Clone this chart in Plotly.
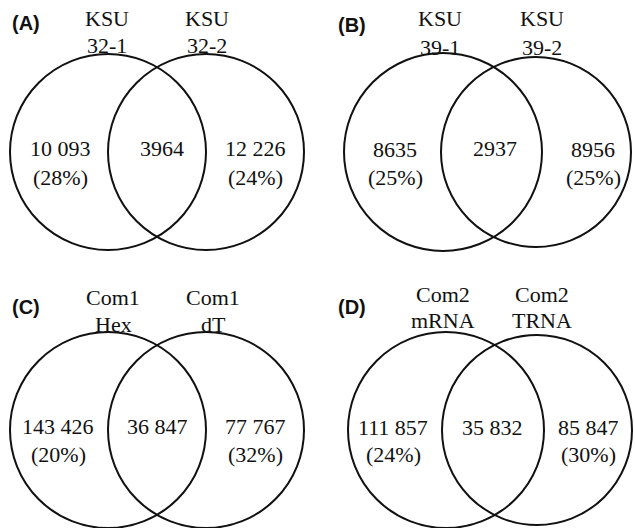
import plotly.graph_objects as go

# ---- data ----
panel_letters = ["(A)", "(B)", "(C)", "(D)"]
set_left_labels = [["KSU", "32-1"], ["KSU", "39-1"], ["Com1", "Hex"], ["Com2", "mRNA"]]
set_right_labels = [["KSU", "32-2"], ["KSU", "39-2"], ["Com1", "dT"], ["Com2", "TRNA"]]
unique_left = [10093, 8635, 143426, 111857]
shared = [3964, 2937, 36847, 35832]
unique_right = [12226, 8956, 77767, 85847]
pct_left = [28, 25, 20, 24]
pct_right = [24, 25, 32, 30]

# ---- layout geometry (pixels, y downward) ----
geom = [
    dict(lc=(108, 152, 98), rc=(206, 152, 98), letter=(26, 23), ll=(107, 18, 45), rl=(207, 18, 45),
         nl=(60, 148, 177), ns=(162, 148), nr=(255, 148, 177)),
    dict(lc=(443, 152, 99), rc=(536, 152, 95), letter=(352, 25), ll=(440, 18, 47), rl=(542, 18, 47),
         nl=(395, 149, 177), ns=(495, 148), nr=(593, 149, 177)),
    dict(lc=(108, 430, 98), rc=(206, 430, 98), letter=(26, 307), ll=(113, 297, 324), rl=(213, 297, 324),
         nl=(58, 426, 454), ns=(157, 426), nr=(255, 426, 454)),
    dict(lc=(446, 430, 98), rc=(537, 430, 95), letter=(352, 307), ll=(443, 294, 320), rl=(542, 294, 320),
         nl=(393, 427, 454), ns=(492, 427), nr=(588, 427, 454)),
]

def fmt(n):
    return f"{n:,}".replace(",", " ") if n >= 10000 else str(n)

SERIF = "Liberation Serif, Times New Roman, serif"
SANS = "Liberation Sans, Arial, sans-serif"
FS = 22

fig = go.Figure()
fig.add_trace(go.Scatter(x=[0, 635], y=[0, 528], mode="markers", marker=dict(opacity=0), hoverinfo="skip", showlegend=False))

shapes = []
ann = []

def text(x, y, s, size=FS, font=SERIF, bold=False):
    ann.append(dict(x=x, y=y, xref="x", yref="y", text=(f"<b>{s}</b>" if bold else s), showarrow=False,
                    xanchor="center", yanchor="middle", font=dict(family=font, size=size, color="#111")))

for i, g in enumerate(geom):
    for (cx, cy, r) in (g["lc"], g["rc"]):
        shapes.append(dict(type="circle", xref="x", yref="y", x0=cx - r, x1=cx + r, y0=cy - r, y1=cy + r,
                           line=dict(color="#111", width=2), fillcolor="rgba(0,0,0,0)", layer="below"))
    text(g["letter"][0], g["letter"][1], panel_letters[i], size=20, font=SANS, bold=True)
    text(g["ll"][0], g["ll"][1], set_left_labels[i][0])
    text(g["ll"][0], g["ll"][2], set_left_labels[i][1])
    text(g["rl"][0], g["rl"][1], set_right_labels[i][0])
    text(g["rl"][0], g["rl"][2], set_right_labels[i][1])
    text(g["nl"][0], g["nl"][1], fmt(unique_left[i]))
    text(g["nl"][0], g["nl"][2], f"({pct_left[i]}%)")
    text(g["ns"][0], g["ns"][1], fmt(shared[i]))
    text(g["nr"][0], g["nr"][1], fmt(unique_right[i]))
    text(g["nr"][0], g["nr"][2], f"({pct_right[i]}%)")

fig.update_layout(
    width=635, height=528, margin=dict(l=0, r=0, t=0, b=0),
    paper_bgcolor="white", plot_bgcolor="white",
    xaxis=dict(range=[0, 635], visible=False, fixedrange=True),
    yaxis=dict(range=[528, 0], visible=False, fixedrange=True),
    shapes=shapes, annotations=ann, showlegend=False,
)

fig.write_html("out.html", config={"displayModeBar": False},
               post_script="document.body.style.margin='0';document.body.style.overflow='hidden';")
